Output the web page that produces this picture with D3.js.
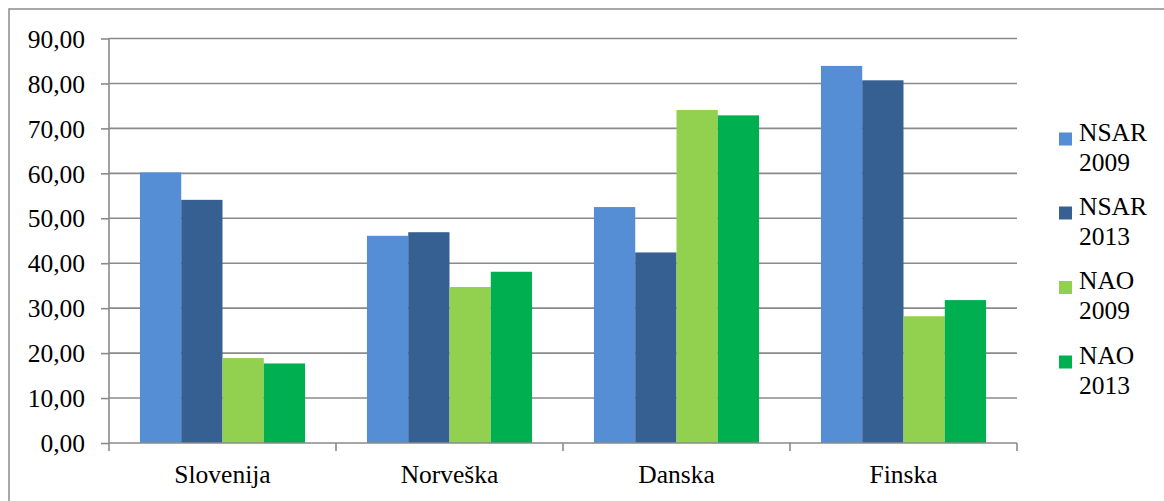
<!DOCTYPE html>
<html>
<head>
<meta charset="utf-8">
<script src="https://cdn.jsdelivr.net/npm/d3@7"></script>
<style>
  html, body { margin: 0; padding: 0; background: #fff; }
  svg { display: block; }
  svg text { font-family: "Liberation Serif", "Times New Roman", serif; }
</style>
</head>
<body>
<svg id="chart" width="1164" height="501"></svg>
<script>
// Countries on the category axis
const categories = ["Slovenija", "Norveška", "Danska", "Finska"];

// Series names (legend shows them on two lines)
const seriesNames = ["NSAR 2009", "NSAR 2013", "NAO 2009", "NAO 2013"];
const seriesColors = ["#558ED5", "#376092", "#92D050", "#00B050"];

// Values per series, in category order
const nsar2009 = [60.2, 46.1, 52.5, 83.9];
const nsar2013 = [54.1, 46.9, 42.4, 80.7];
const nao2009  = [18.9, 34.7, 74.1, 28.2];
const nao2013  = [17.7, 38.1, 72.9, 31.8];

// Y-axis tick values
const yTicks = [0, 10, 20, 30, 40, 50, 60, 70, 80, 90];

const seriesValues = [nsar2009, nsar2013, nao2009, nao2013];

const serif = "Liberation Serif, Times New Roman, serif";
const svg = d3.select("#chart");
const gridColor = "#8a8a8a";

const plot = { left: 109, right: 1017, top: 38.5, bottom: 443 };

// Outer chart frame (top and left edges visible)
svg.append("path")
  .attr("d", "M9,501 V9 H1164")
  .attr("fill", "none")
  .attr("stroke", "#8c8c8c")
  .attr("stroke-width", 1.5);

const x0 = d3.scaleBand().domain(categories).range([plot.left, plot.right]).padding(0);
const x1 = d3.scaleBand().domain(seriesNames).range([0, x0.bandwidth()])
  .paddingInner(0).paddingOuter(0.75);
const y = d3.scaleLinear().domain([0, 90]).range([plot.bottom, plot.top]);

const fmt = v => v.toFixed(2).replace(".", ",");

// Horizontal gridlines
svg.append("g")
  .selectAll("line")
  .data(yTicks.filter(t => t > 0))
  .join("line")
  .attr("x1", plot.left).attr("x2", plot.right)
  .attr("y1", d => y(d)).attr("y2", d => y(d))
  .attr("stroke", gridColor).attr("stroke-width", 1.6);

// Bars
const groups = svg.append("g")
  .selectAll("g")
  .data(categories)
  .join("g")
  .attr("transform", d => `translate(${x0(d)},0)`);

groups.selectAll("rect")
  .data((c, ci) => seriesNames.map((s, si) => ({ s, si, v: seriesValues[si][ci] })))
  .join("rect")
  .attr("x", d => x1(d.s))
  .attr("width", x1.bandwidth())
  .attr("y", d => y(d.v))
  .attr("height", d => y(0) - y(d.v))
  .attr("fill", d => seriesColors[d.si]);

// Y axis
const yAxis = d3.axisLeft(y).tickValues(yTicks).tickFormat(fmt).tickSize(8).tickSizeOuter(0);
const gy = svg.append("g").attr("transform", `translate(${plot.left},0)`).call(yAxis)
  .attr("font-family", serif);
gy.select(".domain").remove();
gy.selectAll(".tick line").attr("stroke", gridColor).attr("stroke-width", 1.6);
gy.selectAll(".tick text")
  .attr("x", -24)
  .attr("dy", "0.34em")
  .attr("font-size", "25.5px")
  .attr("fill", "#000")
  .attr("font-family", serif);
svg.append("line")
  .attr("x1", plot.left).attr("x2", plot.left)
  .attr("y1", plot.top).attr("y2", plot.bottom + 8)
  .attr("stroke", gridColor).attr("stroke-width", 1.6);

// X axis baseline with ticks between categories
svg.append("line")
  .attr("x1", plot.left).attr("x2", plot.right)
  .attr("y1", plot.bottom).attr("y2", plot.bottom)
  .attr("stroke", gridColor).attr("stroke-width", 1.6);
svg.append("g")
  .selectAll("line")
  .data(categories.slice(1).concat(["__end"]))
  .join("line")
  .attr("x1", d => d === "__end" ? plot.right : x0(d))
  .attr("x2", d => d === "__end" ? plot.right : x0(d))
  .attr("y1", plot.bottom).attr("y2", plot.bottom + 8)
  .attr("stroke", gridColor).attr("stroke-width", 1.6);

svg.append("g")
  .selectAll("text")
  .data(categories)
  .join("text")
  .attr("x", d => x0(d) + x0.bandwidth() / 2)
  .attr("y", 482.5)
  .attr("text-anchor", "middle")
  .attr("font-size", "25.5px")
  .attr("font-family", serif)
  .attr("fill", "#000")
  .text(d => d);

// Legend
const legendBase = [140.5, 214.5, 289, 363.5];
const legend = svg.append("g")
  .selectAll("g")
  .data(seriesNames)
  .join("g")
  .attr("transform", (d, i) => `translate(1059,${legendBase[i]})`);

legend.append("rect")
  .attr("x", 0).attr("y", -8)
  .attr("width", 13).attr("height", 13)
  .attr("fill", (d, i) => seriesColors[i]);

legend.append("text")
  .attr("x", 20)
  .attr("font-size", "25.5px")
  .attr("font-family", serif)
  .attr("fill", "#000")
  .selectAll("tspan")
  .data(d => d.split(" "))
  .join("tspan")
  .attr("x", 20)
  .attr("dy", (d, i) => i === 0 ? 0 : 30)
  .text(d => d);
</script>
</body>
</html>
